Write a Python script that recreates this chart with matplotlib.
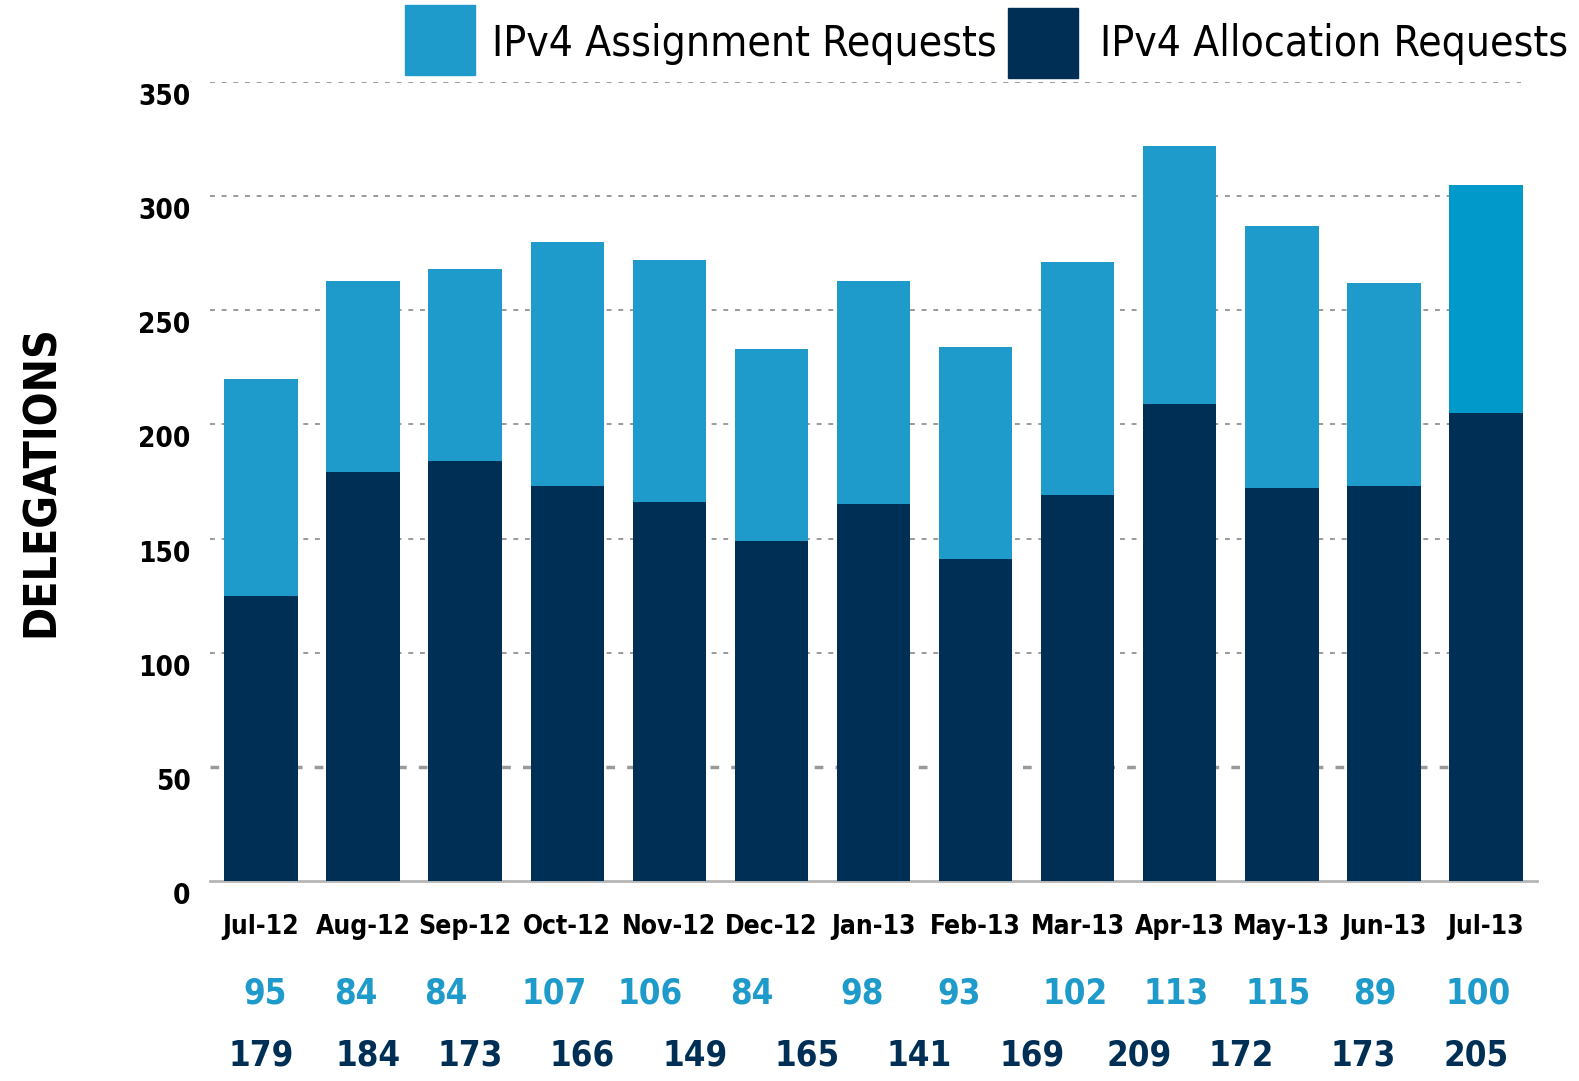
import matplotlib.pyplot as plt
import matplotlib.transforms as mtransforms
from matplotlib.patches import Rectangle

months = ["Jul-12", "Aug-12", "Sep-12", "Oct-12", "Nov-12", "Dec-12", "Jan-13",
          "Feb-13", "Mar-13", "Apr-13", "May-13", "Jun-13", "Jul-13"]
allocation = [125, 179, 184, 173, 166, 149, 165, 141, 169, 209, 172, 173, 205]
assignment = [95, 84, 84, 107, 106, 84, 98, 93, 102, 113, 115, 89, 100]

# numbers printed under the chart (the dark row is shifted in the original)
assign_labels = ["95", "84", "84", "107", "106", "84", "98", "93", "102", "113", "115", "89", "100"]
alloc_labels = ["179", "184", "173", "166", "149", "165", "141", "169", "209", "172", "173", "205"]

# x placement of the printed numbers (layout only)
assign_pos = [0.04, 0.93, 1.81, 2.87, 3.81, 4.81, 5.89, 6.84, 7.98, 8.96, 9.96, 10.91, 11.92]
alloc_pos = [0.0, 1.05, 2.05, 3.15, 4.25, 5.35, 6.45, 7.55, 8.6, 9.6, 10.8, 11.9]

light = "#1e9bca"
light_last = "#0099c9"
dark = "#002f56"

plt.rcParams['font.family'] = ['DejaVu Sans']
plt.rcParams['font.stretch'] = 'condensed'

fig = plt.figure(figsize=(15.79, 10.81), dpi=100)
ax = fig.add_axes([210 / 1579, 1 - 881 / 1081, 1327 / 1579, 799 / 1081])

x = list(range(len(months)))
top_colors = [light] * (len(months) - 1) + [light_last]
ax.bar(x, allocation, width=0.72, color=dark, zorder=3)
ax.bar(x, assignment, bottom=allocation, width=0.72, color=top_colors, zorder=3)

ax.set_xlim(-0.5, 12.5)
ax.set_ylim(0, 350)
ax.set_yticks(range(0, 351, 50))
for t in range(50, 351, 50):
    ax.hlines(t, -0.5, 12.34, colors="#9a9a9a", linestyles=(0, (2.5, 3.5)),
              linewidth=2.5 if t == 50 else 1.4, zorder=1)

for s in ["top", "right", "left"]:
    ax.spines[s].set_visible(False)
ax.spines["bottom"].set_color("#b5b5b5")
ax.spines["bottom"].set_linewidth(2)
ax.tick_params(length=0)
ax.tick_params(axis="y", pad=14)
ax.tick_params(axis="x", pad=24)
ax.set_xticks(x)
ax.set_xticklabels(months, fontsize=19, fontweight="bold")
shift = mtransforms.ScaledTranslation(0, -0.12, fig.dpi_scale_trans)
for lab in ax.get_yticklabels():
    lab.set_fontsize(20)
    lab.set_fontweight("bold")
    lab.set_transform(lab.get_transform() + shift)

ax.set_ylabel("DELEGATIONS", fontsize=32, fontweight="bold", labelpad=54)

for p, s in zip(assign_pos, assign_labels):
    ax.text(p, -53.5, s, ha="center", va="baseline", fontsize=25, fontweight="bold",
            color=light)
for p, s in zip(alloc_pos, alloc_labels):
    ax.text(p, -81, s, ha="center", va="baseline", fontsize=25, fontweight="bold",
            color=dark)

# legend at the top
H, W = 1081, 1579
fig.patches.append(Rectangle((405 / W, 1 - 75 / H), 70 / W, 70 / H,
                             transform=fig.transFigure, color=light))
fig.text(492 / W, 1 - 44 / H, "IPv4 Assignment Requests", fontsize=30.5,
         va="center", ha="left")
fig.patches.append(Rectangle((1008 / W, 1 - 78 / H), 70 / W, 70 / H,
                             transform=fig.transFigure, color=dark))
fig.text(1100 / W, 1 - 44 / H, "IPv4 Allocation Requests", fontsize=30.5,
         va="center", ha="left")

fig.savefig("out.png", dpi=100)
